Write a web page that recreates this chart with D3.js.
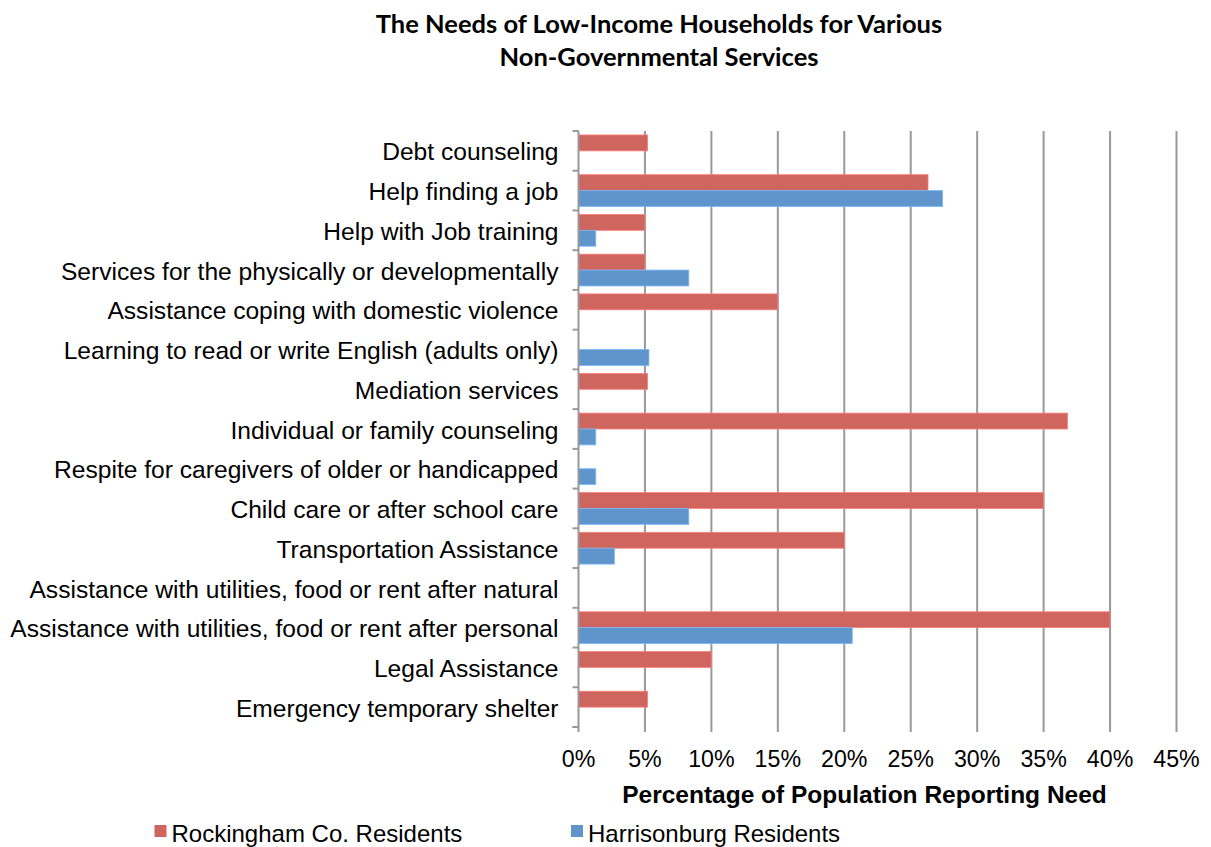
<!DOCTYPE html>
<html>
<head>
<meta charset="utf-8">
<script src="https://cdn.jsdelivr.net/npm/d3@7"></script>
<style>
  html, body { margin: 0; padding: 0; background: #fff; }
  svg { display: block; }
</style>
</head>
<body>
<svg id="chart" width="1211" height="847"></svg>
<script>
const categories = [
  "Debt counseling",
  "Help finding a job",
  "Help with Job training",
  "Services for the physically or developmentally",
  "Assistance coping with domestic violence",
  "Learning to read or write English (adults only)",
  "Mediation services",
  "Individual or family counseling",
  "Respite for caregivers of older or handicapped",
  "Child care or after school care",
  "Transportation Assistance",
  "Assistance with utilities, food or rent after natural",
  "Assistance with utilities, food or rent after personal",
  "Legal Assistance",
  "Emergency temporary shelter"
];
const rockingham = [5.2, 26.3, 5.0, 5.0, 15.0, 0, 5.2, 36.8, 0, 35.0, 20.0, 0, 40.0, 10.0, 5.2];
const harrisonburg = [0, 27.4, 1.3, 8.3, 0, 5.3, 0, 1.3, 1.3, 8.3, 2.7, 0, 20.6, 0, 0];
const seriesNames = ["Rockingham Co. Residents", "Harrisonburg Residents"];
const seriesColors = ["#CE665F", "#5F95CB"];
const xTicks = [0, 5, 10, 15, 20, 25, 30, 35, 40, 45];
const titleLines = ["The Needs of Low-Income Households for Various", "Non-Governmental Services"];
const xTitle = "Percentage of Population Reporting Need";

(function () {
const svg = d3.select("#chart");
const pLeft = 578.5, pRight = 1176.5, pTop = 131, pBottom = 727;
const sans = "Liberation Sans, Arial, Helvetica, sans-serif";

const x = d3.scaleLinear().domain([0, 45]).range([pLeft, pRight]);
const y = d3.scaleBand().domain(categories).range([pTop, pBottom]).paddingInner(0.2).paddingOuter(0.1);
const ySub = d3.scaleBand().domain([0, 1]).range([0, y.bandwidth()]);
const rowH = (pBottom - pTop) / categories.length;

// gridlines
svg.append("g").selectAll("line").data(xTicks.slice(1)).join("line")
  .attr("x1", d => x(d)).attr("x2", d => x(d))
  .attr("y1", pTop).attr("y2", pBottom)
  .attr("stroke", "#999").attr("stroke-width", 2);

// bars
const series = [rockingham, harrisonburg];
series.forEach((vals, si) => {
  svg.append("g").selectAll("rect").data(categories).join("rect")
    .attr("x", x(0))
    .attr("y", (c) => y(c) + ySub(si))
    .attr("width", (c, i) => Math.max(0, x(vals[i]) - x(0)))
    .attr("height", ySub.bandwidth())
    .attr("fill", seriesColors[si])
    .attr("stroke", d3.color(seriesColors[si]).brighter(0.6))
    .attr("stroke-width", (c, i) => vals[i] > 0 ? 0.8 : 0);
});

// y axis
const yAxisG = svg.append("g").attr("transform", `translate(${pLeft},0)`);
yAxisG.append("line").attr("x1", 0).attr("x2", 0).attr("y1", pTop).attr("y2", pBottom)
  .attr("stroke", "#999").attr("stroke-width", 2);
yAxisG.selectAll("line.tk").data(d3.range(categories.length + 1)).join("line").attr("class", "tk")
  .attr("x1", -6).attr("x2", 0)
  .attr("y1", i => pTop + i * rowH)
  .attr("y2", i => pTop + i * rowH)
  .attr("stroke", "#999").attr("stroke-width", 2);
yAxisG.selectAll("text").data(categories).join("text")
  .attr("x", -20).attr("y", c => y(c) + y.bandwidth() / 2 + 1)
  .attr("dy", "0.35em").attr("text-anchor", "end")
  .attr("font-family", sans).attr("font-size", 24.6)
  .attr("fill", "#000").text(c => c);

// x axis bottom ticks
const xAxisG = svg.append("g");
xAxisG.selectAll("line").data(xTicks).join("line")
  .attr("x1", d => x(d)).attr("x2", d => x(d))
  .attr("y1", pBottom).attr("y2", pBottom + 5)
  .attr("stroke", "#999").attr("stroke-width", 2);
xAxisG.append("line").attr("x1", pLeft - 6).attr("x2", pLeft).attr("y1", pBottom).attr("y2", pBottom)
  .attr("stroke", "#999").attr("stroke-width", 2);
xAxisG.selectAll("text").data(xTicks).join("text")
  .attr("x", d => x(d)).attr("y", 767)
  .attr("text-anchor", "middle")
  .attr("font-family", sans).attr("font-size", 23.2)
  .attr("fill", "#000").text(d => d + "%");

// x title
svg.append("text").attr("x", 864.5).attr("y", 802.5).attr("text-anchor", "middle")
  .attr("font-family", sans).attr("font-weight", "bold")
  .attr("font-size", 24.5).attr("fill", "#000").text(xTitle);

// title
svg.append("g").selectAll("text").data(titleLines).join("text")
  .attr("x", 659).attr("y", (d, i) => 32.5 + i * 33.3).attr("text-anchor", "middle")
  .attr("font-family", "Lato, 'Open Sans', sans-serif").attr("font-weight", "bold")
  .attr("font-size", 25.5).attr("fill", "#000").text(d => d);

// legend
const legendX = [154.5, 571];
const lg = svg.append("g").selectAll("g").data(seriesNames).join("g")
  .attr("transform", (d, i) => `translate(${legendX[i]},0)`);
lg.append("rect").attr("x", 0).attr("y", 825).attr("width", 12).attr("height", 12)
  .attr("fill", (d, i) => seriesColors[i]);
lg.append("text").attr("x", 17).attr("y", 841.5)
  .attr("font-family", sans).attr("font-size", 24)
  .attr("fill", "#000").text(d => d);
})();
</script>
</body>
</html>
